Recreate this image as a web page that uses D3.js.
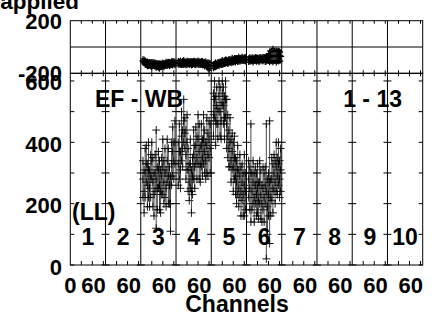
<!DOCTYPE html>
<html><head><meta charset="utf-8">
<script src="https://cdn.jsdelivr.net/npm/d3@7"></script>
<style>body{margin:0;background:#fff}svg{display:block}text{font-family:"Liberation Sans",Arial,sans-serif;font-weight:bold;fill:#000}</style>
</head><body><div id="chart"></div>
<script>
// ---- data ----
const panelLabels = ["1","2","3","4","5","6","7","8","9","10"];
const xTickLabels = ["0","60","60","60","60","60","60","60","60","60","60"];
const yTicksTop = [-200, 200];
const yTicksBottom = [0, 200, 400, 600];
const yMinorBottom = [0, 100, 200, 300, 400, 500, 600];
const channelTicks = [20, 40, 60];
const dataPanels = [2, 3, 4, 5]; // panels 3..6
const channels = [4,6,8,10,12,14,16,18,20,22,24,26,28,30,32,34,36,38,40,42,44,46,48,50,52,54,56,58,60,62];

const wbP3 = [280,240,300,330,260,310,250,290,340,270,230,300,280,250,310,260,240,290,320,270,300,250,340,290,260,200,330,370,340,400];
const wbP4 = [330,370,310,420,380,470,430,360,400,310,270,330,240,290,360,320,390,350,410,370,330,390,350,410,370,340,390,360,410,380];
const wbP5 = [490,540,470,520,460,550,500,470,560,520,480,540,460,420,380,400,340,370,320,350,290,270,310,250,290,240,270,230,260,240];
const wbP6 = [280,250,300,240,270,220,260,230,250,210,270,230,200,250,220,260,240,190,230,270,220,280,250,300,270,320,290,330,280,310];
const errP3 = [60,70,80,60,70,90,60,70,60,80,70,60,160,70,60,80,70,60,90,70,80,60,70,90,60,90,70,80,60,70];
const errP4 = [70,90,60,80,60,70,50,80,90,70,60,80,70,60,80,70,60,70,80,90,60,70,60,80,70,60,90,70,60,80];
const errP5 = [70,60,80,60,50,50,80,60,40,60,70,60,80,70,60,80,70,60,80,70,60,70,80,60,70,80,60,70,100,60];
const errP6 = [60,70,160,60,70,80,60,70,80,60,70,80,60,70,80,60,220,90,70,200,60,70,80,60,70,80,60,70,60,70];

const topP3 = [-105,-110,-118,-125,-128,-130,-126,-132,-135,-130,-128,-134,-140,-138,-142,-145,-140,-138,-135,-140,-132,-128,-130,-125,-130,-128,-122,-125,-120,-125];
const topP4 = [-120,-122,-118,-125,-120,-118,-122,-125,-120,-118,-123,-120,-125,-122,-118,-120,-124,-120,-118,-122,-125,-120,-123,-128,-130,-125,-135,-140,-145,-140];
const topP5 = [-145,-140,-135,-138,-130,-128,-125,-122,-118,-120,-115,-112,-110,-115,-108,-105,-110,-100,-105,-98,-102,-95,-100,-92,-98,-95,-90,-96,-92,-95];
const topP6 = [-100,-95,-98,-92,-100,-95,-90,-96,-92,-98,-95,-90,-94,-92,-88,-95,-90,-85,-80,-75,-70,-72,-65,-70,-68,-72,-66,-70,-68,-72];
const topErrP3 = [15,18,20,15,22,18,16,20,25,18,15,20,22,18,20,25,18,16,20,18,15,20,18,16,20,15,18,20,15,18];
const topErrP4 = [18,15,20,16,18,22,15,18,20,16,18,15,20,18,16,20,18,15,20,18,16,18,20,15,22,18,20,25,30,22];
const topErrP5 = [20,18,22,15,18,20,16,18,22,15,18,20,16,18,20,15,18,22,16,18,20,15,18,22,16,18,20,15,18,20];
const topErrP6 = [18,20,16,18,22,15,18,20,16,18,20,15,18,20,16,22,25,20,30,45,35,40,55,40,35,50,38,45,40,35];

const wbSeries = [wbP3, wbP4, wbP5, wbP6];
const wbErr = [errP3, errP4, errP5, errP6];
const topSeries = [topP3, topP4, topP5, topP6];
const topErr = [topErrP3, topErrP4, topErrP5, topErrP6];

// ---- layout ----
const W = 447, H = 320;
const nPanels = 10, chPerPanel = 64;
const x = d3.scaleLinear().domain([0, nPanels * chPerPanel]).range([70.3, 422.7]);
const yTop = d3.scaleLinear().domain([-200, 200]).range([73.3, 20.7]);
const yBot = d3.scaleLinear().domain([0, 625]).range([265, 73.3]);

const svg = d3.select("#chart").append("svg").attr("width", W).attr("height", H);
svg.append("rect").attr("width", W).attr("height", H).attr("fill", "#fff");

const gx = (p, ch) => x(p * chPerPanel + ch);
const plus = (cx, cy, s) => `M${cx - s},${cy}H${cx + s}M${cx},${cy - s}V${cy + s}`;

// frames
const L = x(0), R = x(nPanels * chPerPanel);
const frame = svg.append("g").attr("stroke", "#000").attr("fill", "none").attr("stroke-width", 1);
frame.append("rect").attr("x", L).attr("y", yTop(200)).attr("width", R - L).attr("height", yTop(-200) - yTop(200));
frame.append("rect").attr("x", L).attr("y", yBot(625)).attr("width", R - L).attr("height", yBot(0) - yBot(625));
frame.append("line").attr("x1", L).attr("x2", R).attr("y1", yTop(0)).attr("y2", yTop(0));
d3.range(1, nPanels).forEach(p => {
  frame.append("line").attr("x1", gx(p, 0)).attr("x2", gx(p, 0)).attr("y1", yTop(200)).attr("y2", yBot(0));
});
// channel ticks
d3.range(nPanels).forEach(p => {
  channelTicks.forEach(c => {
    const xx = gx(p, c);
    frame.append("line").attr("x1", xx).attr("x2", xx).attr("y1", yTop(200)).attr("y2", yTop(200) + 3);
    frame.append("line").attr("x1", xx).attr("x2", xx).attr("y1", yTop(-200) - 3).attr("y2", yTop(-200) + 3);
    frame.append("line").attr("x1", xx).attr("x2", xx).attr("y1", yBot(0)).attr("y2", yBot(0) - 4);
  });
});
// y ticks bottom panel at each boundary
d3.range(0, nPanels + 1).forEach(p => {
  const xx = gx(p, 0);
  yMinorBottom.forEach(v => {
    const yy = yBot(v);
    const x1 = p === 0 ? xx : xx - 4;
    const x2 = p === nPanels ? xx : xx + 4;
    frame.append("line").attr("x1", x1).attr("x2", x2).attr("y1", yy).attr("y2", yy);
  });
});

// data - bottom panel (error bars with plus symbols)
const botG = svg.append("g").attr("fill", "none");
dataPanels.forEach((p, k) => {
  const vals = wbSeries[k], errs = wbErr[k];
  vals.forEach((v, i) => {
    const cx = gx(p, channels[i]);
    const lo = yBot(v - errs[i]), hi = yBot(v + errs[i]);
    botG.append("line").attr("x1", cx).attr("x2", cx).attr("y1", lo).attr("y2", hi).attr("stroke", "#333").attr("stroke-width", 0.9);
    botG.append("path").attr("d", plus(cx, lo, 4) + plus(cx, hi, 4) + plus(cx, yBot(v), 4)).attr("stroke", "#000").attr("stroke-width", 0.9);
  });
});

// data - top panel
const topG = svg.append("g").attr("fill", "none");
dataPanels.forEach((p, k) => {
  const vals = topSeries[k], errs = topErr[k];
  const line = d3.line().x((d, i) => gx(p, channels[i])).y(d => yTop(d));
  topG.append("path").attr("d", line(vals)).attr("stroke", "#000").attr("stroke-width", 1.5);
  vals.forEach((v, i) => {
    const cx = gx(p, channels[i]);
    const lo = yTop(v - errs[i]), hi = yTop(v + errs[i]);
    topG.append("path").attr("d", `M${cx},${lo}V${hi}` + plus(cx, lo, 2.5) + plus(cx, hi, 2.5) + plus(cx, yTop(v), 3.5))
      .attr("stroke", "#000").attr("stroke-width", 1.2);
  });
});

// axis labels
const fsTick = 22;
yTicksTop.forEach(v => {
  svg.append("text").attr("x", 62).attr("y", yTop(v) + 8).attr("text-anchor", "end").attr("font-size", fsTick).text(v);
});
yTicksBottom.forEach(v => {
  svg.append("text").attr("x", 62).attr("y", yBot(v) + 9.5).attr("text-anchor", "end").attr("font-size", fsTick).text(v);
});
xTickLabels.forEach((t, i) => {
  if (i === 0) {
    svg.append("text").attr("x", gx(0, 0)).attr("y", 293).attr("text-anchor", "middle").attr("font-size", fsTick).text(t);
  } else {
    svg.append("text").attr("x", gx(i - 1, 60) + 2.5).attr("y", 293).attr("text-anchor", "end").attr("font-size", fsTick).text(t);
  }
});
svg.append("text").attr("x", 237).attr("y", 312).attr("text-anchor", "middle").attr("font-size", 23).text("Channels");
svg.append("text").attr("x", 79).attr("y", 9).attr("text-anchor", "end").attr("font-size", 22.5).text("applied");

// panel annotations
svg.append("text").attr("x", 95).attr("y", 106.7).attr("font-size", 23).text("EF - WB");
svg.append("text").attr("x", 402).attr("y", 106.5).attr("text-anchor", "end").attr("font-size", 23).text("1 - 13");
svg.append("text").attr("x", 72).attr("y", 219.5).attr("font-size", 23).text("(LL)");
panelLabels.forEach((t, p) => {
  svg.append("text").attr("x", gx(p, 32)).attr("y", 245).attr("text-anchor", "middle").attr("font-size", 23).text(t);
});
</script></body></html>
